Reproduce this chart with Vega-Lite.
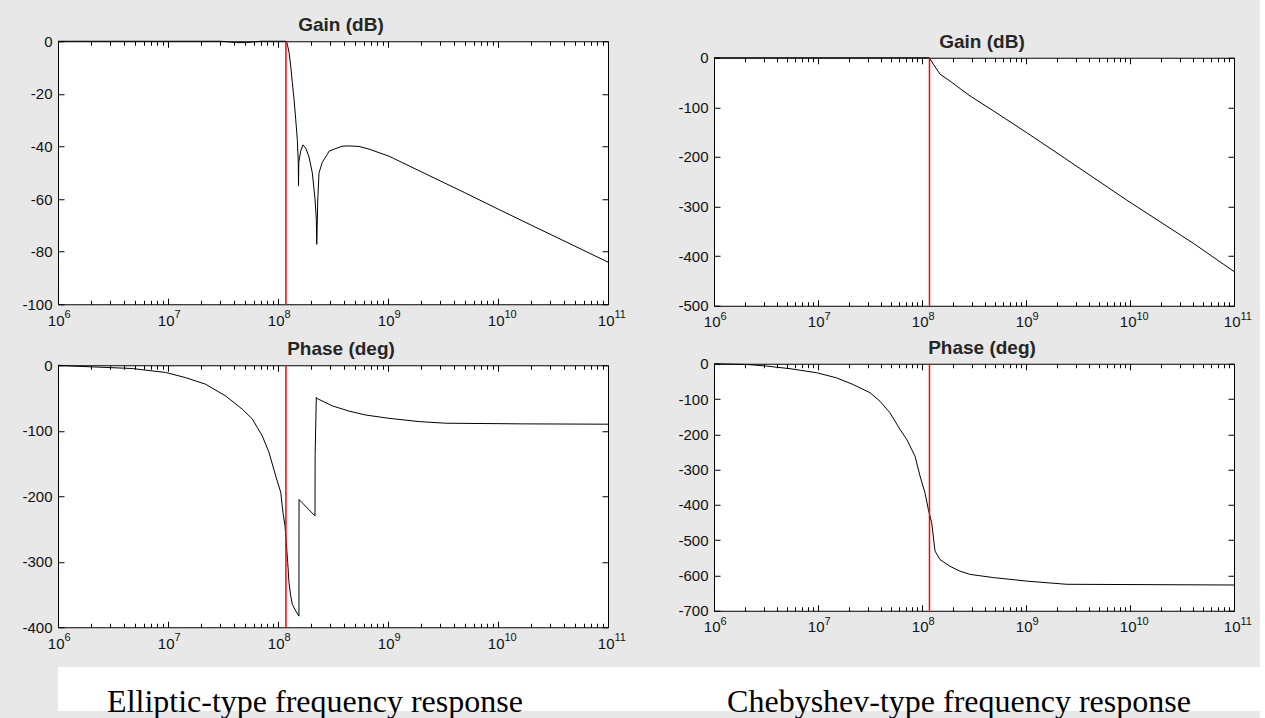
{
  "$schema": "https://vega.github.io/schema/vega-lite/v6.json",
  "background": "#e8e8e8",
  "padding": {"left": 21, "top": 15, "right": 0, "bottom": 0},
  "config": {
    "view": {"stroke": "#000000", "strokeWidth": 1, "fill": "#ffffff"},
    "axis": {"domain": false, "grid": false, "tickColor": "#000000", "tickWidth": 1, "labelFont": "Liberation Sans", "labelFontSize": 15, "labelColor": "#111111", "labelFlush": false, "labelOverlap": false, "title": null},
    "axisLeft": {"labelPadding": 12, "labelExpr": "datum.value + ''"},
    "title": {"font": "Liberation Sans", "fontSize": 19, "fontWeight": "bold", "color": "#262626", "offset": -1, "dx": 8, "anchor": "middle"}
  },
  "datasets": {
    "cutoff": [{"f": 1.18e8}],
    "ellipticGain": [
      {"f": 1e6, "g": 0}, {"f": 1e7, "g": 0}, {"f": 3e7, "g": 0}, {"f": 4.2e7, "g": -0.5}, {"f": 5.2e7, "g": -0.5}, {"f": 7e7, "g": 0}, {"f": 1.0e8, "g": 0}, {"f": 1.19e8, "g": 0},
      {"f": 1.215e8, "g": -1.1}, {"f": 1.259e8, "g": -4.2}, {"f": 1.305e8, "g": -9.4}, {"f": 1.349e8, "g": -15.7}, {"f": 1.398e8, "g": -22}, {"f": 1.449e8, "g": -29.7}, {"f": 1.498e8, "g": -37.3}, {"f": 1.529e8, "g": -46}, {"f": 1.536e8, "g": -55}, {"f": 1.545e8, "g": -46},
      {"f": 1.608e8, "g": -41.7}, {"f": 1.687e8, "g": -39.4}, {"f": 1.786e8, "g": -40.6}, {"f": 1.914e8, "g": -44}, {"f": 2.05e8, "g": -50}, {"f": 2.17e8, "g": -60}, {"f": 2.23e8, "g": -67.7}, {"f": 2.25e8, "g": -77.2}, {"f": 2.3e8, "g": -60}, {"f": 2.36e8, "g": -50}, {"f": 2.53e8, "g": -46}, {"f": 2.81e8, "g": -43}, {"f": 2.91e8, "g": -41.8},
      {"f": 3.82e8, "g": -39.9}, {"f": 4.42e8, "g": -39.8}, {"f": 5.45e8, "g": -40}, {"f": 6.72e8, "g": -41}, {"f": 1.02e9, "g": -43.7}, {"f": 2e9, "g": -49.6}, {"f": 5e9, "g": -57.6}, {"f": 1e10, "g": -63.8}, {"f": 2e10, "g": -69.9}, {"f": 5e10, "g": -77.9}, {"f": 1e11, "g": -84}
    ],
    "ellipticPhase": [
      {"f": 1e6, "p": 0}, {"f": 1.26e6, "p": -1}, {"f": 4.73e6, "p": -5}, {"f": 9.53e6, "p": -11}, {"f": 1.45e7, "p": -19}, {"f": 2.2e7, "p": -29}, {"f": 3.35e7, "p": -47}, {"f": 4.73e7, "p": -67}, {"f": 5.84e7, "p": -82}, {"f": 7.2e7, "p": -108}, {"f": 8.28e7, "p": -133}, {"f": 9.53e7, "p": -169}, {"f": 1.059e8, "p": -194}, {"f": 1.11e8, "p": -225}, {"f": 1.157e8, "p": -245},
      {"f": 1.189e8, "p": -271}, {"f": 1.225e8, "p": -301}, {"f": 1.259e8, "p": -332}, {"f": 1.305e8, "p": -352}, {"f": 1.349e8, "p": -365}, {"f": 1.449e8, "p": -375}, {"f": 1.55e8, "p": -383}, {"f": 1.553e8, "p": -205}, {"f": 2.17e8, "p": -230}, {"f": 2.175e8, "p": -138}, {"f": 2.23e8, "p": -49},
      {"f": 2.28e8, "p": -51}, {"f": 3.12e8, "p": -62}, {"f": 4.42e8, "p": -70}, {"f": 6.27e8, "p": -76}, {"f": 1.02e9, "p": -81}, {"f": 1.91e9, "p": -86}, {"f": 3.35e9, "p": -88.5}, {"f": 1.65e10, "p": -89.5}, {"f": 1e11, "p": -90}
    ],
    "chebyGain": [
      {"f": 1e6, "g": 0}, {"f": 1e7, "g": 0}, {"f": 1e8, "g": 0}, {"f": 1.176e8, "g": 0}, {"f": 1.285e8, "g": -13}, {"f": 1.49e8, "g": -33}, {"f": 1.86e8, "g": -47}, {"f": 2.32e8, "g": -62}, {"f": 2.9e8, "g": -77}, {"f": 4.85e8, "g": -107}, {"f": 1.016e9, "g": -151}, {"f": 2.12e9, "g": -196}, {"f": 9.3e9, "g": -287}, {"f": 4.06e10, "g": -374}, {"f": 1e11, "g": -431}
    ],
    "chebyPhase": [
      {"f": 1e6, "p": 0}, {"f": 2.06e6, "p": -2}, {"f": 3.21e6, "p": -6.6}, {"f": 5.38e6, "p": -14}, {"f": 9.72e6, "p": -25.5}, {"f": 1.51e7, "p": -40}, {"f": 2.18e7, "p": -59}, {"f": 3.16e7, "p": -82}, {"f": 3.94e7, "p": -106}, {"f": 4.92e7, "p": -139}, {"f": 6.14e7, "p": -186}, {"f": 7.12e7, "p": -214}, {"f": 8.57e7, "p": -262}, {"f": 9.57e7, "p": -318}, {"f": 1.069e8, "p": -366}, {"f": 1.151e8, "p": -413},
      {"f": 1.24e8, "p": -451}, {"f": 1.334e8, "p": -531}, {"f": 1.49e8, "p": -555}, {"f": 1.86e8, "p": -574}, {"f": 2.32e8, "p": -588}, {"f": 2.9e8, "p": -597}, {"f": 4.85e8, "p": -606}, {"f": 1.016e9, "p": -616}, {"f": 2.46e9, "p": -625}, {"f": 1e11, "p": -627}
    ]
  },
  "vconcat": [
    {
      "hconcat": [
        {
          "vconcat": [
            {
              "width": 550, "height": 263,
              "title": {"text": "Gain (dB)"},
              "layer": [
                {"data": {"name": "ellipticGain"}, "mark": {"type": "line", "color": "#000000", "strokeWidth": 1},
                 "encoding": {
                   "x": {"field": "f", "type": "quantitative", "scale": {"type": "log", "domain": [1e6, 1e11], "nice": false}, "axis": {"orient": "bottom", "values": [1e6, 1e7, 1e8, 1e9, 1e10, 1e11], "tickSize": -6, "labelPadding": 15, "labelBaseline": "top", "labelAlign": "right", "labelOffset": 6, "labelExpr": "'10'"}},
                   "y": {"field": "g", "type": "quantitative", "scale": {"domain": [-100, 0], "nice": false, "zero": false}, "axis": {"orient": "left", "values": [-100, -80, -60, -40, -20, 0], "tickSize": -6}}
                 }},
                {"data": {"name": "ellipticGain"}, "mark": {"type": "line", "strokeOpacity": 0},
                 "encoding": {
                   "x": {"field": "f", "type": "quantitative", "scale": {"type": "log", "domain": [1e6, 1e11], "nice": false}, "axis": {"orient": "bottom", "values": [1e6, 2e6, 3e6, 4e6, 5e6, 6e6, 7e6, 8e6, 9e6, 1e7, 2e7, 3e7, 4e7, 5e7, 6e7, 7e7, 8e7, 9e7, 1e8, 2e8, 3e8, 4e8, 5e8, 6e8, 7e8, 8e8, 9e8, 1e9, 2e9, 3e9, 4e9, 5e9, 6e9, 7e9, 8e9, 9e9, 1e10, 2e10, 3e10, 4e10, 5e10, 6e10, 7e10, 8e10, 9e10, 1e11], "tickSize": -4, "labelPadding": 8.5, "labelBaseline": "top", "labelAlign": "left", "labelOffset": 6, "labelFontSize": 11, "labelExpr": "abs(log(datum.value)/LN10 - round(log(datum.value)/LN10)) < 0.001 ? '' + round(log(datum.value)/LN10) : ''"}},
                   "y": {"field": "g", "type": "quantitative", "scale": {"domain": [-100, 0], "nice": false, "zero": false}, "axis": {"orient": "right", "values": [-100, -80, -60, -40, -20, 0], "labels": false, "tickSize": -6}}
                 }},
                {"data": {"name": "ellipticGain"}, "mark": {"type": "line", "strokeOpacity": 0},
                 "encoding": {
                   "x": {"field": "f", "type": "quantitative", "scale": {"type": "log", "domain": [1e6, 1e11], "nice": false}, "axis": {"orient": "top", "values": [2e6, 3e6, 4e6, 5e6, 6e6, 7e6, 8e6, 9e6, 2e7, 3e7, 4e7, 5e7, 6e7, 7e7, 8e7, 9e7, 2e8, 3e8, 4e8, 5e8, 6e8, 7e8, 8e8, 9e8, 2e9, 3e9, 4e9, 5e9, 6e9, 7e9, 8e9, 9e9, 2e10, 3e10, 4e10, 5e10, 6e10, 7e10, 8e10, 9e10], "labels": false, "tickSize": -4}},
                   "y": {"field": "g", "type": "quantitative", "scale": {"domain": [-100, 0], "nice": false, "zero": false}, "axis": null}
                 }},
                {"data": {"name": "cutoff"}, "mark": {"type": "rule", "color": "#ff0000", "stroke": "#ff0000", "opacity": 1, "strokeWidth": 1.5},
                 "encoding": {
                   "x": {"field": "f", "type": "quantitative", "scale": {"type": "log", "domain": [1e6, 1e11], "nice": false}, "axis": {"orient": "top", "values": [1e6, 1e7, 1e8, 1e9, 1e10, 1e11], "labels": false, "tickSize": -6}}
                 }}
              ],
              "resolve": {"scale": {"x": "independent", "y": "independent"}}
            },
            {
              "width": 550, "height": 262,
              "title": {"text": "Phase (deg)"},
              "layer": [
                {"data": {"name": "ellipticPhase"}, "mark": {"type": "line", "color": "#000000", "strokeWidth": 1},
                 "encoding": {
                   "x": {"field": "f", "type": "quantitative", "scale": {"type": "log", "domain": [1e6, 1e11], "nice": false}, "axis": {"orient": "bottom", "values": [1e6, 1e7, 1e8, 1e9, 1e10, 1e11], "tickSize": -6, "labelPadding": 15, "labelBaseline": "top", "labelAlign": "right", "labelOffset": 6, "labelExpr": "'10'"}},
                   "y": {"field": "p", "type": "quantitative", "scale": {"domain": [-400, 0], "nice": false, "zero": false}, "axis": {"orient": "left", "values": [-400, -300, -200, -100, 0], "tickSize": -6}}
                 }},
                {"data": {"name": "ellipticPhase"}, "mark": {"type": "line", "strokeOpacity": 0},
                 "encoding": {
                   "x": {"field": "f", "type": "quantitative", "scale": {"type": "log", "domain": [1e6, 1e11], "nice": false}, "axis": {"orient": "bottom", "values": [1e6, 2e6, 3e6, 4e6, 5e6, 6e6, 7e6, 8e6, 9e6, 1e7, 2e7, 3e7, 4e7, 5e7, 6e7, 7e7, 8e7, 9e7, 1e8, 2e8, 3e8, 4e8, 5e8, 6e8, 7e8, 8e8, 9e8, 1e9, 2e9, 3e9, 4e9, 5e9, 6e9, 7e9, 8e9, 9e9, 1e10, 2e10, 3e10, 4e10, 5e10, 6e10, 7e10, 8e10, 9e10, 1e11], "tickSize": -4, "labelPadding": 8.5, "labelBaseline": "top", "labelAlign": "left", "labelOffset": 6, "labelFontSize": 11, "labelExpr": "abs(log(datum.value)/LN10 - round(log(datum.value)/LN10)) < 0.001 ? '' + round(log(datum.value)/LN10) : ''"}},
                   "y": {"field": "p", "type": "quantitative", "scale": {"domain": [-400, 0], "nice": false, "zero": false}, "axis": {"orient": "right", "values": [-400, -300, -200, -100, 0], "labels": false, "tickSize": -6}}
                 }},
                {"data": {"name": "ellipticPhase"}, "mark": {"type": "line", "strokeOpacity": 0},
                 "encoding": {
                   "x": {"field": "f", "type": "quantitative", "scale": {"type": "log", "domain": [1e6, 1e11], "nice": false}, "axis": {"orient": "top", "values": [2e6, 3e6, 4e6, 5e6, 6e6, 7e6, 8e6, 9e6, 2e7, 3e7, 4e7, 5e7, 6e7, 7e7, 8e7, 9e7, 2e8, 3e8, 4e8, 5e8, 6e8, 7e8, 8e8, 9e8, 2e9, 3e9, 4e9, 5e9, 6e9, 7e9, 8e9, 9e9, 2e10, 3e10, 4e10, 5e10, 6e10, 7e10, 8e10, 9e10], "labels": false, "tickSize": -4}},
                   "y": {"field": "p", "type": "quantitative", "scale": {"domain": [-400, 0], "nice": false, "zero": false}, "axis": null}
                 }},
                {"data": {"name": "cutoff"}, "mark": {"type": "rule", "color": "#ff0000", "stroke": "#ff0000", "opacity": 1, "strokeWidth": 1.5},
                 "encoding": {
                   "x": {"field": "f", "type": "quantitative", "scale": {"type": "log", "domain": [1e6, 1e11], "nice": false}, "axis": {"orient": "top", "values": [1e6, 1e7, 1e8, 1e9, 1e10, 1e11], "labels": false, "tickSize": -6}}
                 }}
              ],
              "resolve": {"scale": {"x": "independent", "y": "independent"}}
            }
          ],
          "spacing": 61,
          "bounds": "flush"
        },
        {
          "vconcat": [
            {
              "width": 520, "height": 248,
              "title": {"text": "Gain (dB)"},
              "layer": [
                {"data": {"name": "chebyGain"}, "mark": {"type": "line", "color": "#000000", "strokeWidth": 1},
                 "encoding": {
                   "x": {"field": "f", "type": "quantitative", "scale": {"type": "log", "domain": [1e6, 1e11], "nice": false}, "axis": {"orient": "bottom", "values": [1e6, 1e7, 1e8, 1e9, 1e10, 1e11], "tickSize": -6, "labelPadding": 15, "labelBaseline": "top", "labelAlign": "right", "labelOffset": 6, "labelExpr": "'10'"}},
                   "y": {"field": "g", "type": "quantitative", "scale": {"domain": [-500, 0], "nice": false, "zero": false}, "axis": {"orient": "left", "values": [-500, -400, -300, -200, -100, 0], "tickSize": -6}}
                 }},
                {"data": {"name": "chebyGain"}, "mark": {"type": "line", "strokeOpacity": 0},
                 "encoding": {
                   "x": {"field": "f", "type": "quantitative", "scale": {"type": "log", "domain": [1e6, 1e11], "nice": false}, "axis": {"orient": "bottom", "values": [1e6, 2e6, 3e6, 4e6, 5e6, 6e6, 7e6, 8e6, 9e6, 1e7, 2e7, 3e7, 4e7, 5e7, 6e7, 7e7, 8e7, 9e7, 1e8, 2e8, 3e8, 4e8, 5e8, 6e8, 7e8, 8e8, 9e8, 1e9, 2e9, 3e9, 4e9, 5e9, 6e9, 7e9, 8e9, 9e9, 1e10, 2e10, 3e10, 4e10, 5e10, 6e10, 7e10, 8e10, 9e10, 1e11], "tickSize": -4, "labelPadding": 8.5, "labelBaseline": "top", "labelAlign": "left", "labelOffset": 6, "labelFontSize": 11, "labelExpr": "abs(log(datum.value)/LN10 - round(log(datum.value)/LN10)) < 0.001 ? '' + round(log(datum.value)/LN10) : ''"}},
                   "y": {"field": "g", "type": "quantitative", "scale": {"domain": [-500, 0], "nice": false, "zero": false}, "axis": {"orient": "right", "values": [-500, -400, -300, -200, -100, 0], "labels": false, "tickSize": -6}}
                 }},
                {"data": {"name": "chebyGain"}, "mark": {"type": "line", "strokeOpacity": 0},
                 "encoding": {
                   "x": {"field": "f", "type": "quantitative", "scale": {"type": "log", "domain": [1e6, 1e11], "nice": false}, "axis": {"orient": "top", "values": [2e6, 3e6, 4e6, 5e6, 6e6, 7e6, 8e6, 9e6, 2e7, 3e7, 4e7, 5e7, 6e7, 7e7, 8e7, 9e7, 2e8, 3e8, 4e8, 5e8, 6e8, 7e8, 8e8, 9e8, 2e9, 3e9, 4e9, 5e9, 6e9, 7e9, 8e9, 9e9, 2e10, 3e10, 4e10, 5e10, 6e10, 7e10, 8e10, 9e10], "labels": false, "tickSize": -4}},
                   "y": {"field": "g", "type": "quantitative", "scale": {"domain": [-500, 0], "nice": false, "zero": false}, "axis": null}
                 }},
                {"data": {"name": "cutoff"}, "mark": {"type": "rule", "color": "#ff0000", "stroke": "#ff0000", "opacity": 1, "strokeWidth": 1.5},
                 "encoding": {
                   "x": {"field": "f", "type": "quantitative", "scale": {"type": "log", "domain": [1e6, 1e11], "nice": false}, "axis": {"orient": "top", "values": [1e6, 1e7, 1e8, 1e9, 1e10, 1e11], "labels": false, "tickSize": -6}}
                 }}
              ],
              "resolve": {"scale": {"x": "independent", "y": "independent"}}
            },
            {
              "width": 520, "height": 247,
              "title": {"text": "Phase (deg)"},
              "layer": [
                {"data": {"name": "chebyPhase"}, "mark": {"type": "line", "color": "#000000", "strokeWidth": 1},
                 "encoding": {
                   "x": {"field": "f", "type": "quantitative", "scale": {"type": "log", "domain": [1e6, 1e11], "nice": false}, "axis": {"orient": "bottom", "values": [1e6, 1e7, 1e8, 1e9, 1e10, 1e11], "tickSize": -6, "labelPadding": 15, "labelBaseline": "top", "labelAlign": "right", "labelOffset": 6, "labelExpr": "'10'"}},
                   "y": {"field": "p", "type": "quantitative", "scale": {"domain": [-700, 0], "nice": false, "zero": false}, "axis": {"orient": "left", "values": [-700, -600, -500, -400, -300, -200, -100, 0], "tickSize": -6}}
                 }},
                {"data": {"name": "chebyPhase"}, "mark": {"type": "line", "strokeOpacity": 0},
                 "encoding": {
                   "x": {"field": "f", "type": "quantitative", "scale": {"type": "log", "domain": [1e6, 1e11], "nice": false}, "axis": {"orient": "bottom", "values": [1e6, 2e6, 3e6, 4e6, 5e6, 6e6, 7e6, 8e6, 9e6, 1e7, 2e7, 3e7, 4e7, 5e7, 6e7, 7e7, 8e7, 9e7, 1e8, 2e8, 3e8, 4e8, 5e8, 6e8, 7e8, 8e8, 9e8, 1e9, 2e9, 3e9, 4e9, 5e9, 6e9, 7e9, 8e9, 9e9, 1e10, 2e10, 3e10, 4e10, 5e10, 6e10, 7e10, 8e10, 9e10, 1e11], "tickSize": -4, "labelPadding": 8.5, "labelBaseline": "top", "labelAlign": "left", "labelOffset": 6, "labelFontSize": 11, "labelExpr": "abs(log(datum.value)/LN10 - round(log(datum.value)/LN10)) < 0.001 ? '' + round(log(datum.value)/LN10) : ''"}},
                   "y": {"field": "p", "type": "quantitative", "scale": {"domain": [-700, 0], "nice": false, "zero": false}, "axis": {"orient": "right", "values": [-700, -600, -500, -400, -300, -200, -100, 0], "labels": false, "tickSize": -6}}
                 }},
                {"data": {"name": "chebyPhase"}, "mark": {"type": "line", "strokeOpacity": 0},
                 "encoding": {
                   "x": {"field": "f", "type": "quantitative", "scale": {"type": "log", "domain": [1e6, 1e11], "nice": false}, "axis": {"orient": "top", "values": [2e6, 3e6, 4e6, 5e6, 6e6, 7e6, 8e6, 9e6, 2e7, 3e7, 4e7, 5e7, 6e7, 7e7, 8e7, 9e7, 2e8, 3e8, 4e8, 5e8, 6e8, 7e8, 8e8, 9e8, 2e9, 3e9, 4e9, 5e9, 6e9, 7e9, 8e9, 9e9, 2e10, 3e10, 4e10, 5e10, 6e10, 7e10, 8e10, 9e10], "labels": false, "tickSize": -4}},
                   "y": {"field": "p", "type": "quantitative", "scale": {"domain": [-700, 0], "nice": false, "zero": false}, "axis": null}
                 }},
                {"data": {"name": "cutoff"}, "mark": {"type": "rule", "color": "#ff0000", "stroke": "#ff0000", "opacity": 1, "strokeWidth": 1.5},
                 "encoding": {
                   "x": {"field": "f", "type": "quantitative", "scale": {"type": "log", "domain": [1e6, 1e11], "nice": false}, "axis": {"orient": "top", "values": [1e6, 1e7, 1e8, 1e9, 1e10, 1e11], "labels": false, "tickSize": -6}}
                 }}
              ],
              "resolve": {"scale": {"x": "independent", "y": "independent"}}
            }
          ],
          "spacing": 58,
          "bounds": "flush"
        }
      ],
      "spacing": 51,
      "center": true
    },
    {
      "hconcat": [
        {
          "width": 572, "height": 44,
          "view": {"fill": "#ffffff", "stroke": null},
          "data": {"values": [{"caption": "Elliptic-type frequency response"}]},
          "mark": {"type": "text", "font": "Liberation Serif", "fontSize": 32, "color": "#000000", "baseline": "alphabetic", "dy": 23, "dx": -29},
          "encoding": {"text": {"field": "caption", "type": "nominal"}}
        },
        {
          "width": 630, "height": 44,
          "view": {"fill": "#ffffff", "stroke": null},
          "data": {"values": [{"caption": "Chebyshev-type frequency response"}]},
          "mark": {"type": "text", "font": "Liberation Serif", "fontSize": 32, "color": "#000000", "baseline": "alphabetic", "dy": 23, "dx": 14},
          "encoding": {"text": {"field": "caption", "type": "nominal"}}
        }
      ],
      "spacing": 0
    }
  ],
  "spacing": 15
}
